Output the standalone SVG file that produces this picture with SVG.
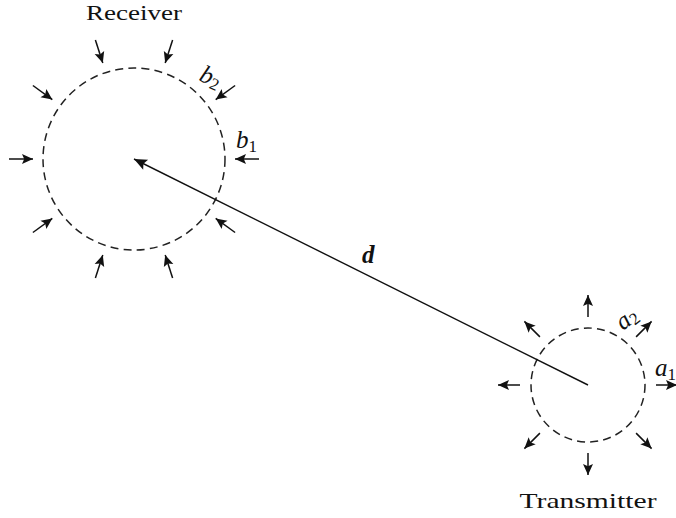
<svg xmlns="http://www.w3.org/2000/svg" width="676" height="518" viewBox="0 0 676 518">
<style>
.ring{fill:none;stroke:#222;stroke-width:1.5;stroke-dasharray:8 5.2}
.arr{stroke:#111;stroke-width:1.5;fill:none;marker-end:url(#ah)}
.lbl{font-family:"Liberation Serif","DejaVu Serif",serif;font-size:22px;fill:#111}
.math{font-family:"Liberation Serif","DejaVu Serif",serif;font-style:italic;font-size:25px;fill:#111}
.sub{font-style:normal;font-size:17px}
</style>
<defs>
<marker id="ah" markerUnits="userSpaceOnUse" viewBox="-1 -6 13 12" refX="11" refY="0" markerWidth="13" markerHeight="12" orient="auto">
<path d="M0,-5 L11,0 L0,5 L2.2,0 Z" fill="#111"/>
</marker>
<marker id="ahd" markerUnits="userSpaceOnUse" viewBox="-1 -7 15 14" refX="13" refY="0" markerWidth="15" markerHeight="14" orient="auto">
<path d="M0,-5.5 L13,0 L0,5.5 L2.5,0 Z" fill="#111"/>
</marker>
</defs>
<g id="receiver">
<circle class="ring" cx="134" cy="159" r="91"/>
<text class="lbl" x="134" y="20" text-anchor="middle" textLength="96" lengthAdjust="spacingAndGlyphs">Receiver</text>
<text class="math" x="236" y="148">b<tspan class="sub" dy="4">1</tspan></text>
<text class="math" transform="translate(198,80) rotate(24)">b<tspan class="sub" dy="3">2</tspan></text>
</g>
<g id="transmitter">
<circle class="ring" cx="588" cy="385" r="57"/>
<text class="lbl" x="588" y="508" text-anchor="middle" textLength="137" lengthAdjust="spacingAndGlyphs">Transmitter</text>
<text class="math" x="655" y="376">a<tspan class="sub" dy="4">1</tspan></text>
<text class="math" transform="translate(623,331) rotate(-38)">a<tspan class="sub" dy="3">2</tspan></text>
</g>
<g id="connectors">
<line x1="588" y1="385" x2="134" y2="159" stroke="#111" stroke-width="1.4" marker-end="url(#ahd)"/>
<text class="math" x="362" y="263" style="font-weight:bold">d</text>
<g id="receiver-arrows">
<line class="arr" x1="259" y1="159" x2="235" y2="159"/>
<line class="arr" x1="235.1" y1="85.5" x2="215.7" y2="99.6"/>
<line class="arr" x1="172.6" y1="40.1" x2="165.2" y2="62.9"/>
<line class="arr" x1="95.4" y1="40.1" x2="102.8" y2="62.9"/>
<line class="arr" x1="32.9" y1="85.5" x2="52.3" y2="99.6"/>
<line class="arr" x1="9" y1="159" x2="33" y2="159"/>
<line class="arr" x1="32.9" y1="232.5" x2="52.3" y2="218.4"/>
<line class="arr" x1="95.4" y1="277.9" x2="102.8" y2="255.1"/>
<line class="arr" x1="172.6" y1="277.9" x2="165.2" y2="255.1"/>
<line class="arr" x1="235.1" y1="232.5" x2="215.7" y2="218.4"/>
</g>
<g id="transmitter-arrows">
<line class="arr" x1="656" y1="385" x2="677" y2="385"/>
<line class="arr" x1="636.1" y1="336.9" x2="651.6" y2="321.4"/>
<line class="arr" x1="588" y1="317" x2="588" y2="295"/>
<line class="arr" x1="539.9" y1="336.9" x2="524.4" y2="321.4"/>
<line class="arr" x1="520" y1="385" x2="498" y2="385"/>
<line class="arr" x1="539.9" y1="433.1" x2="524.4" y2="448.6"/>
<line class="arr" x1="588" y1="453" x2="588" y2="475"/>
<line class="arr" x1="636.1" y1="433.1" x2="651.6" y2="448.6"/>
</g>
</g>
</svg>
